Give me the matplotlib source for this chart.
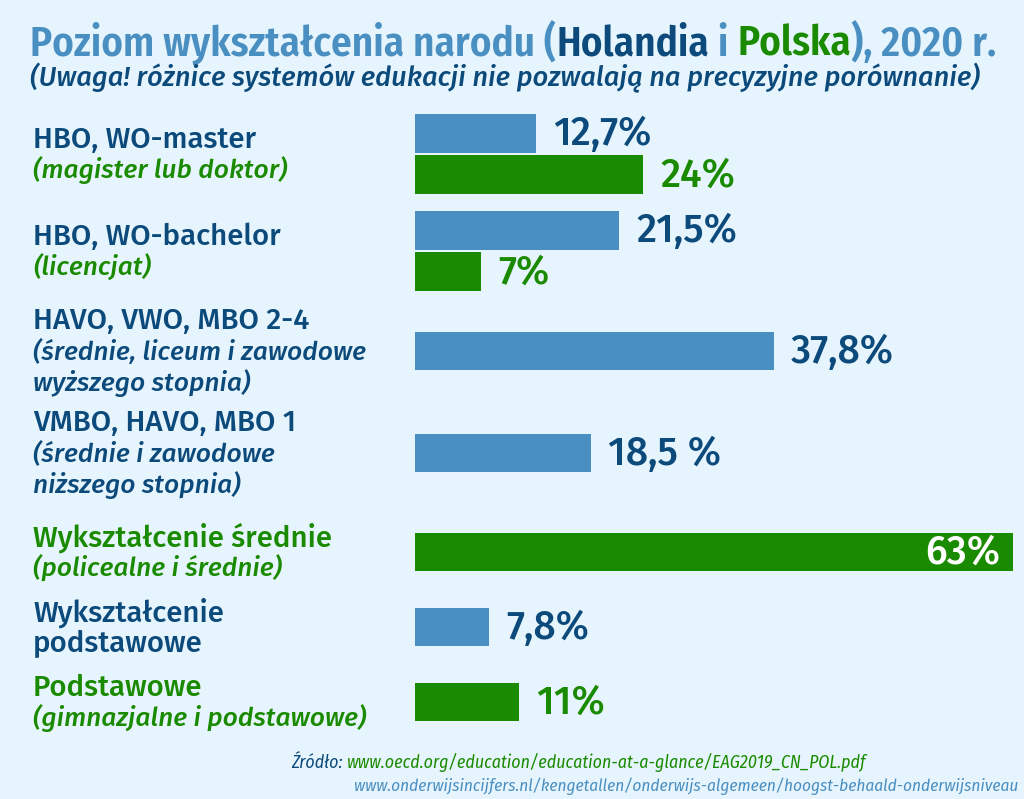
import matplotlib
matplotlib.use("Agg")
import matplotlib.pyplot as plt

# dane
kategorie = [
    "HBO, WO-master", "HBO, WO-bachelor", "HAVO, VWO, MBO 2-4",
    "VMBO, HAVO, MBO 1", "Wykształcenie średnie",
    "Wykształcenie podstawowe", "Podstawowe",
]
holandia = [12.7, 21.5, 37.8, 18.5, None, 7.8, None]
polska = [24, 7, None, None, 63, None, 11]
etykiety_nl = ["12,7%", "21,5%", "37,8%", "18,5 %", None, "7,8%", None]
etykiety_pl = ["24%", "7%", None, None, "63%", None, "11%"]

# opisy po lewej: (tekst, kolor, kursywa)
opisy = [
    [("HBO, WO-master", "nl", False), ("(magister lub doktor)", "pl", True)],
    [("HBO, WO-bachelor", "nl", False), ("(licencjat)", "pl", True)],
    [("HAVO, VWO, MBO 2-4", "nl", False), ("(średnie, liceum i zawodowe", "nl", True),
     ("wyższego stopnia)", "nl", True)],
    [("VMBO, HAVO, MBO 1", "nl", False), ("(średnie i zawodowe", "nl", True),
     ("niższego stopnia)", "nl", True)],
    [("Wykształcenie średnie", "pl", False), ("(policealne i średnie)", "pl", True)],
    [("Wykształcenie", "nl", False), ("podstawowe", "nl", False)],
    [("Podstawowe", "pl", False), ("(gimnazjalne i podstawowe)", "pl", True)],
]

# kolory
TLO = "#e6f4fd"
NIEBIESKI = "#4a8fc1"
CIEMNY = "#0b4a7b"
ZIELONY = "#1a8a00"
kolory_tekstu = {"nl": CIEMNY, "pl": ZIELONY}

# czcionki (z zapasowymi)
FONT = ["Fira Sans", "Open Sans", "DejaVu Sans"]
NARROW = ["Fira Sans Condensed", "PT Sans Narrow", "Asap Condensed", "Open Sans", "DejaVu Sans"]

W, H = 1024, 799
fig = plt.figure(figsize=(W / 100, H / 100), dpi=100, facecolor=TLO)
renderer = fig.canvas.get_renderer()


def szer(t):
    return t.get_window_extent(renderer).width


def rozmiar(tekst, szerokosc, **kw):
    # rozmiar czcionki, przy ktorym tekst ma zadana szerokosc w pikselach
    t = fig.text(0, 0, tekst, fontsize=20, **kw)
    s = 20 * szerokosc / szer(t)
    t.remove()
    return s


# osie wykresu: x w procentach, y w pikselach (od gory)
ax = fig.add_axes([415 / W, 0, 598 / W, 1])
ax.set_facecolor(TLO)
ax.set_xlim(0, 63)
ax.set_ylim(H, 0)
ax.axis("off")

# srodki grup i wysokosc slupka
srodki = [154, 251, 351, 453, 552, 627, 702]
h_bar = 38.5
odstep = 2.5

styl_wart = dict(family=FONT, fontweight="medium")
fs_wart = rozmiar("12,7%", 98, **styl_wart)

for i in range(len(kategorie)):
    nl = holandia[i]
    pl = polska[i]
    if nl is not None and pl is not None:
        y_nl = srodki[i] - (h_bar + odstep) / 2
        y_pl = srodki[i] + (h_bar + odstep) / 2
    else:
        y_nl = y_pl = srodki[i]

    if nl is not None:
        ax.barh(y_nl, nl, height=h_bar, color=NIEBIESKI, left=0)
        ax.text(nl + 1.8, y_nl + 1, etykiety_nl[i], color=CIEMNY, fontsize=fs_wart,
                va="center", ha="left", **styl_wart)
    if pl is not None:
        ax.barh(y_pl, pl, height=h_bar, color=ZIELONY, left=0)
        if pl > 50:
            ax.text(pl - 1.3, y_pl + 1, etykiety_pl[i], color="white", fontsize=fs_wart,
                    va="center", ha="right", **styl_wart)
        else:
            ax.text(pl + 1.8, y_pl + 1, etykiety_pl[i], color=ZIELONY, fontsize=fs_wart,
                    va="center", ha="left", **styl_wart)

# opisy kategorii
fs_opis = rozmiar("HBO, WO-master", 224, family=FONT, fontweight="medium")
fs_kurs = rozmiar("(magister lub doktor)", 254, family=FONT, fontweight="medium",
                  fontstyle="italic")
linia = 31
for i, linie in enumerate(opisy):
    n = len(linie)
    y0 = srodki[i] - (n - 1) * linia / 2
    for k, (tekst, kol, kursywa) in enumerate(linie):
        fig.text(33 / W, 1 - (y0 + k * linia + 1) / H, tekst, color=kolory_tekstu[kol],
                 fontsize=fs_kurs if kursywa else fs_opis, family=FONT,
                 fontweight="medium", fontstyle="italic" if kursywa else "normal",
                 va="center", ha="left")


def kawalki(x, y, czesci, szerokosc, **kw):
    # tekst z kilku kolorow, wyrownany do zadanej szerokosci
    teksty = []
    for tekst, kol in czesci:
        teksty.append(fig.text(0, 0, tekst, color=kol, va="baseline", ha="left", **kw))
    razem = sum(szer(t) for t in teksty)
    for t in teksty:
        t.set_fontsize(t.get_fontsize() * szerokosc / razem)
    xx = x
    for t in teksty:
        t.set_position((xx / W, 1 - y / H))
        xx += szer(t)
    return teksty


# tytul
kawalki(30, 56, [("Poziom wykształcenia narodu (", NIEBIESKI), ("Holandia", CIEMNY),
                 (" i ", NIEBIESKI), ("Polska", ZIELONY), ("), 2020 r.", NIEBIESKI)],
        967, fontsize=40, family=NARROW, fontweight="semibold")

# podtytul
kawalki(30, 86, [("(Uwaga! różnice systemów edukacji nie pozwalają na precyzyjne porównanie)",
                  CIEMNY)],
        950, fontsize=18, family=FONT, fontweight="medium", fontstyle="italic")

# zrodla
url2 = "www.onderwijsincijfers.nl/kengetallen/onderwijs-algemeen/hoogst-behaald-onderwijsniveau"
kawalki(291, 768, [("Źródło: ", CIEMNY),
                   ("www.oecd.org/education/education-at-a-glance/EAG2019_CN_POL.pdf", ZIELONY)],
        575, fontsize=12, family=NARROW, fontweight="normal", fontstyle="italic")
fig.text(1018 / W, 1 - 791 / H, url2, color=NIEBIESKI, family=NARROW,
         fontweight="normal", fontstyle="italic", va="baseline", ha="right",
         fontsize=rozmiar(url2, 664, family=NARROW, fontweight="normal",
                          fontstyle="italic"))

fig.savefig("out.png", dpi=100, facecolor=TLO)
